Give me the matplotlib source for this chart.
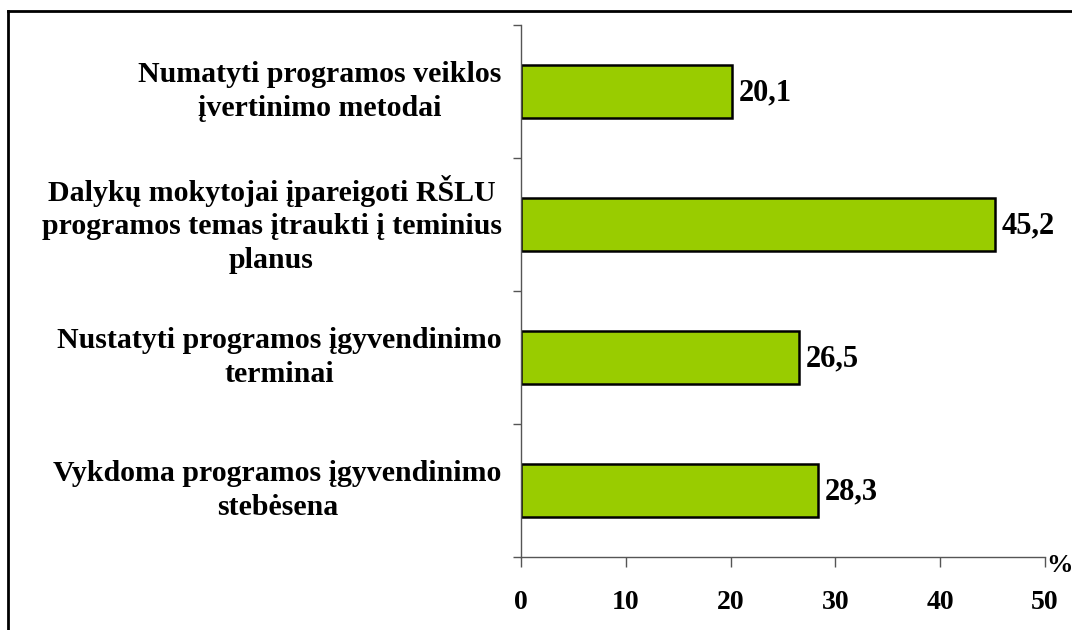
import matplotlib
matplotlib.use("Agg")
import matplotlib.pyplot as plt
from matplotlib.lines import Line2D

# Duomenys (nuo apačios į viršų)
categories = [
    "Vykdoma programos įgyvendinimo\nstebėsena",
    "Nustatyti programos įgyvendinimo\nterminai",
    "Dalykų mokytojai įpareigoti RŠLU\nprogramos temas įtraukti į teminius\nplanus",
    "Numatyti programos veiklos\nįvertinimo metodai",
]
values = [28.3, 26.5, 45.2, 20.1]
xticks = [0, 10, 20, 30, 40, 50]

plt.rcParams['font.family'] = ['Liberation Serif', 'DejaVu Serif']
plt.rcParams['font.weight'] = 'bold'

W, H = 1072, 630
fig = plt.figure(figsize=(W / 100, H / 100), dpi=100)
ax = fig.add_axes([521 / W, 1 - 557 / H, (1045 - 521) / W, (557 - 25) / H])

ypos = list(range(len(categories)))
ax.barh(ypos, values, height=0.4, color='#99CC00', edgecolor='black', linewidth=1.8)

for y, v in zip(ypos, values):
    ax.annotate(f"{v:.1f}".replace('.', ','), (v, y), xytext=(5, -1),
                textcoords='offset points', ha='left', va='center',
                fontsize=22, fontweight='bold')

ax.set_xlim(0, 50)
ax.set_ylim(-0.5, len(categories) - 0.5)
ax.set_xticks(xticks)
ax.set_xticklabels([str(t) for t in xticks], fontsize=20, fontweight='bold')

# kategorijų ribos kaip varnelės
ax.set_yticks([i - 0.5 for i in range(len(categories) + 1)])
ax.set_yticklabels([])
ax.tick_params(axis='y', direction='out', length=6, color='#555555', width=1)
ax.tick_params(axis='x', direction='out', length=7, color='#555555', width=1, pad=17)

for y, lab in zip(ypos, categories):
    ax.annotate(lab, (0, y), xycoords=('axes fraction', 'data'), xytext=(-14, 0),
                textcoords='offset points', ha='right', va='center',
                multialignment='center', fontsize=21.5, fontweight='bold',
                linespacing=1.3)

for s in ['top', 'right']:
    ax.spines[s].set_visible(False)
for s in ['left', 'bottom']:
    ax.spines[s].set_color('#555555')
    ax.spines[s].set_linewidth(1)

ax.annotate('%', (1, 0), xycoords='axes fraction', xytext=(1, -6),
            textcoords='offset points', ha='left', va='center',
            fontsize=19, fontweight='bold')

# rėmelis aplink diagramą
fig.add_artist(Line2D([8 / W, 8 / W], [0, 1 - 10.5 / H], transform=fig.transFigure,
                      color='black', linewidth=2))
fig.add_artist(Line2D([8 / W, 1], [1 - 10.5 / H, 1 - 10.5 / H], transform=fig.transFigure,
                      color='black', linewidth=2))

fig.savefig('out.png', dpi=100, facecolor='white')
